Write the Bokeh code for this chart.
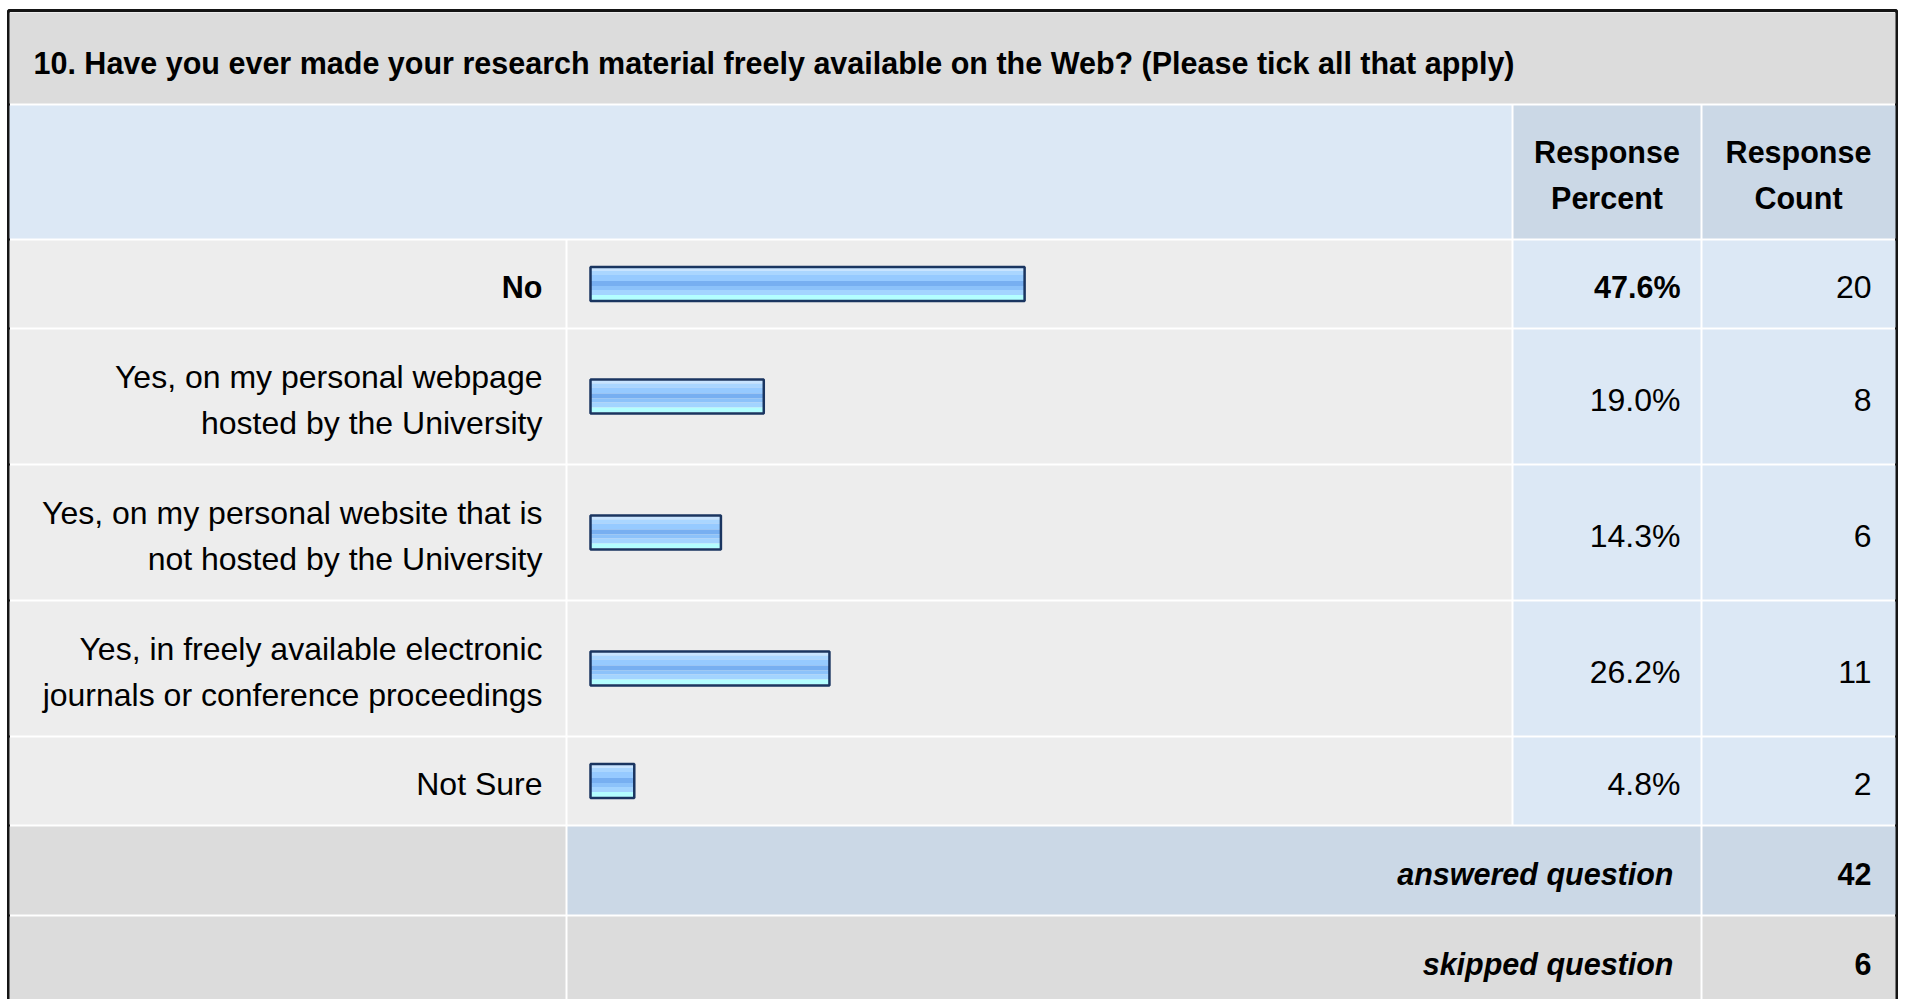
from bokeh.plotting import figure
from bokeh.models import Range1d, ColumnDataSource
from bokeh.core.properties import value
from bokeh.embed import file_html
from bokeh.resources import INLINE

# ---------------- data ----------------
question = "10. Have you ever made your research material freely available on the Web? (Please tick all that apply)"
answer_labels = [
    "No",
    "Yes, on my personal webpage\nhosted by the University",
    "Yes, on my personal website that is\nnot hosted by the University",
    "Yes, in freely available electronic\njournals or conference proceedings",
    "Not Sure",
]
response_percent = [47.6, 19.0, 14.3, 26.2, 4.8]
response_count = [20, 8, 6, 11, 2]
column_headers = ["Response\nPercent", "Response\nCount"]
summary_labels = ["answered question", "skipped question"]
summary_values = [42, 6]

# ---------------- layout (page pixels) ----------------
W, H = 1899, 999
PX0, PY0 = 0, 0
FONT = value("Liberation Sans")
REG = value("32px")
BLD = value("30.5px")
TXT_OFF = 3

COL = [10, 566, 1512, 1701, 1895]
BAR_X0 = 590.0
PX_PER_PCT = 9.12
LINE_H = 46

GRAY = "#dcdcdc"
ROWBG = "#ededed"
LBLUE = "#dce8f5"
HBLUE = "#cbd8e6"

p = figure(width=W, height=H, output_backend="svg", toolbar_location=None,
           x_range=Range1d(PX0, PX0 + W), y_range=Range1d(PY0 + H, PY0),
           min_border=0, min_border_left=0, min_border_right=0,
           min_border_top=0, min_border_bottom=0)
p.axis.visible = False
p.grid.visible = False
p.outline_line_color = None
p.background_fill_color = "white"
p.border_fill_color = "white"

p.extra_x_ranges = {"pct": Range1d(start=(PX0 - BAR_X0) / PX_PER_PCT,
                                   end=(PX0 + W - BAR_X0) / PX_PER_PCT)}

cells = dict(l=[], r=[], t=[], b=[], c=[])
def cell(x0, x1, y0, y1, color):
    cells["l"].append(x0 + 1); cells["r"].append(x1 - 1)
    cells["t"].append(y0 + 1); cells["b"].append(y1 - 1)
    cells["c"].append(color)

texts = {}
def txt(style, x, y, s, align):
    d = texts.setdefault(style, dict(x=[], y=[], t=[], a=[]))
    d["x"].append(x); d["y"].append(y); d["t"].append(s); d["a"].append(align)

def lines_at(style, x, yc, s, align):
    parts = s.split("\n")
    n = len(parts)
    for i, part in enumerate(parts):
        y = yc + TXT_OFF + (i - (n - 1) / 2.0) * LINE_H
        txt(style, x, y, part, align)

# title
y = 11
cell(COL[0] - 2, COL[4] + 1, y, 104, GRAY)
txt("bold", 33, 62, question, "left")
y = 104
# header
cell(COL[0] - 2, COL[2], y, 239, LBLUE)
cell(COL[2], COL[3], y, 239, HBLUE)
cell(COL[3], COL[4] + 1, y, 239, HBLUE)
hc = (y + 239) / 2
lines_at("bold", (COL[2] + COL[3]) / 2, hc, column_headers[0], "center")
lines_at("bold", (COL[3] + COL[4]) / 2, hc, column_headers[1], "center")
y = 239

bar_centers = []
top_pct = max(response_percent)
for lab, pc, cnt in zip(answer_labels, response_percent, response_count):
    n = lab.count("\n") + 1
    h = 89 if n == 1 else 136
    y1 = y + h
    cell(COL[0] - 2, COL[1], y, y1, ROWBG)
    cell(COL[1], COL[2], y, y1, ROWBG)
    cell(COL[2], COL[3], y, y1, LBLUE)
    cell(COL[3], COL[4] + 1, y, y1, LBLUE)
    yc = (y + y1) / 2
    bar_centers.append(yc)
    st = "bold" if pc == top_pct else "reg"
    lines_at(st, 542, yc, lab, "right")
    lines_at(st, 1680, yc, f"{pc:.1f}%", "right")
    lines_at("reg", 1871, yc, str(cnt), "right")
    y = y1

# summary rows
for i, (lab, v) in enumerate(zip(summary_labels, summary_values)):
    y1 = y + 90
    mid = HBLUE if i == 0 else GRAY
    cell(COL[0] - 2, COL[1], y, y1, GRAY)
    cell(COL[1], COL[3], y, y1, mid)
    cell(COL[3], COL[4] + 1, y, y1, mid)
    yc = (y + y1) / 2
    lines_at("bolditalic", 1673, yc, lab, "right")
    lines_at("bold", 1871, yc, str(v), "right")
    y = y1

# white base + outer border
p.quad(left=[8], right=[1896], top=[10], bottom=[1010], fill_color="white",
       line_color="#151515", line_width=3)
p.quad(left="l", right="r", top="t", bottom="b", fill_color="c", line_color=None,
       source=ColumnDataSource(cells))

# bars (stripes give the glossy gradient)
stripes = [(3, "#c8e4ff"), (4, "#aad6ff"), (6, "#96caff"), (5, "#77aff1"),
           (4, "#8cc2fa"), (5, "#a3d4ff"), (5, "#b3feff")]
BAR_H = 36
zeros = [0] * len(response_percent)
off = 2
for hh, col in stripes:
    src = ColumnDataSource(dict(l=zeros, r=response_percent,
                                t=[c - BAR_H / 2 + off for c in bar_centers],
                                b=[c - BAR_H / 2 + off + hh for c in bar_centers]))
    p.quad(left="l", right="r", top="t", bottom="b", source=src, fill_color=col,
           line_color=None, x_range_name="pct")
    off += hh
src = ColumnDataSource(dict(l=zeros, r=response_percent,
                            t=[c - BAR_H / 2 + 1 for c in bar_centers],
                            b=[c + BAR_H / 2 - 1 for c in bar_centers]))
p.quad(left="l", right="r", top="t", bottom="b", source=src, fill_color=None,
       line_color="#1a3560", line_width=2.5, x_range_name="pct")

styles = {"reg": ("normal", REG), "bold": ("bold", BLD), "bolditalic": ("bold italic", BLD)}
for st, d in texts.items():
    fs, size = styles[st]
    p.text(x="x", y="y", text="t", text_align="a", source=ColumnDataSource(d),
           text_baseline="alphabetic", text_font=FONT, text_font_size=size,
           text_font_style=fs, text_color="#000000")

open("out.html", "w").write(file_html(p, INLINE))
